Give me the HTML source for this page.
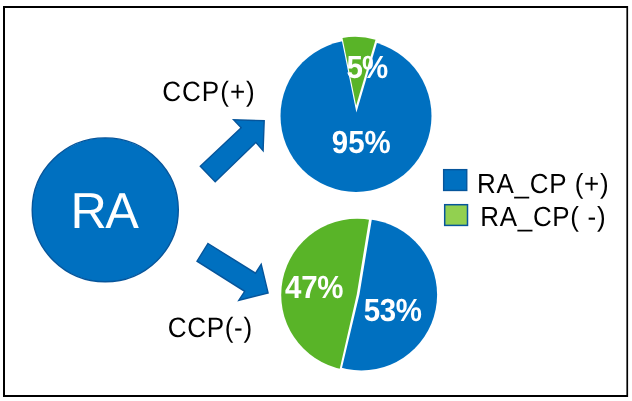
<!DOCTYPE html>
<html>
<head>
<meta charset="utf-8">
<title>RA CCP</title>
<style>
html,body{margin:0;padding:0;background:#fff;}
body{width:632px;height:401px;overflow:hidden;position:relative;font-family:"Liberation Sans",sans-serif;}
svg{position:absolute;left:0;top:0;display:block;}
text{font-family:"Liberation Sans",sans-serif;text-rendering:geometricPrecision;}
.b{font-weight:bold;fill:#fff;}
</style>
</head>
<body>
<svg width="632" height="401" viewBox="0 0 632 401">
  <rect x="0" y="0" width="632" height="401" fill="#ffffff"/>
  <!-- frame -->
  <path d="M3,6 H628.1 V396.9 H3 Z M5,8 V395.1 H626.4 V8 Z" fill="#000" fill-rule="evenodd"/>

  <!-- RA circle -->
  <ellipse cx="105.25" cy="209.85" rx="73.05" ry="71.95" fill="#0070c0" stroke="#06559b" stroke-width="1.4"/>
  <text x="70.54" y="227.7" font-size="50.4" letter-spacing="-1.64" fill="#fff">RA</text>

  <!-- arrows -->
  <polygon points="200.3,166.2 241.2,127.8 233.6,119.8 264.2,120.7 263.1,150.8 255.8,142.4 215.2,181.7" fill="#0070c0" stroke="#06559b" stroke-width="1.4" stroke-linejoin="miter"/>
  <polygon points="208.0,243.5 255.5,273.2 261.2,264.3 268.1,292.9 238.8,300.3 244.7,291.3 197.0,261.2" fill="#0070c0" stroke="#06559b" stroke-width="1.4" stroke-linejoin="miter"/>

  <!-- labels -->
  <text transform="translate(162.23,101.3) scale(0.93,1)" font-size="28" letter-spacing="1.08" fill="#000">CCP(+)</text>
  <text transform="translate(167.83,337) scale(0.93,1)" font-size="28" letter-spacing="0.71" fill="#000">CCP(-)</text>

  <!-- top pie -->
  <ellipse cx="356" cy="116" rx="75.5" ry="75.9" fill="#0070c0"/>
  <polygon points="356.4,112.6 340.2,32.4 380,32.4" fill="#fff"/>
  <path d="M356.15,105.5 L342.5,38 A72.5,72.5 0 0 1 375.5,39.8 Z" fill="#59b428"/>
  <text class="b" transform="translate(346.45,77.6) scale(0.92,1)" font-size="32" letter-spacing="-0.88">5%</text>
  <text class="b" transform="translate(331.82,153.1) scale(0.92,1)" font-size="32" letter-spacing="-0.05">95%</text>

  <!-- bottom pie -->
  <clipPath id="cg"><circle cx="357.2" cy="294.8" r="76"/></clipPath>
  <clipPath id="cb"><circle cx="361.4" cy="294.7" r="75.7"/></clipPath>
  <polygon points="371,216 358.1,294.4 340,372 270,372 270,216" fill="#59b428" clip-path="url(#cg)"/>
  <polygon points="371,216 358.1,294.4 340,372 450,372 450,216" fill="#0070c0" clip-path="url(#cb)"/>
  <polygon points="369.6,216 372.4,216 359.45,294.4 341,372 339,372 356.75,294.4" fill="#fff"/>
  <text class="b" transform="translate(285.05,298.1) scale(0.92,1)" font-size="32" letter-spacing="-0.23">47%</text>
  <text class="b" transform="translate(363.85,321) scale(0.92,1)" font-size="32" letter-spacing="-0.5">53%</text>

  <!-- legend -->
  <rect x="443.65" y="169.65" width="23.1" height="20.8" fill="#0070c0" stroke="#06559b" stroke-width="1.4"/>
  <rect x="444.7" y="204.7" width="22.8" height="20.7" fill="#92d050" stroke="#06559b" stroke-width="1.5"/>
  <text transform="translate(477.05,193) scale(0.94,1)" font-size="27.6" letter-spacing="0.79" xml:space="preserve" fill="#000">RA_CP (+)</text>
  <text transform="translate(480.35,226) scale(0.94,1)" font-size="27.6" letter-spacing="0.74" xml:space="preserve" fill="#000">RA_CP( -)</text>
</svg>
</body>
</html>
